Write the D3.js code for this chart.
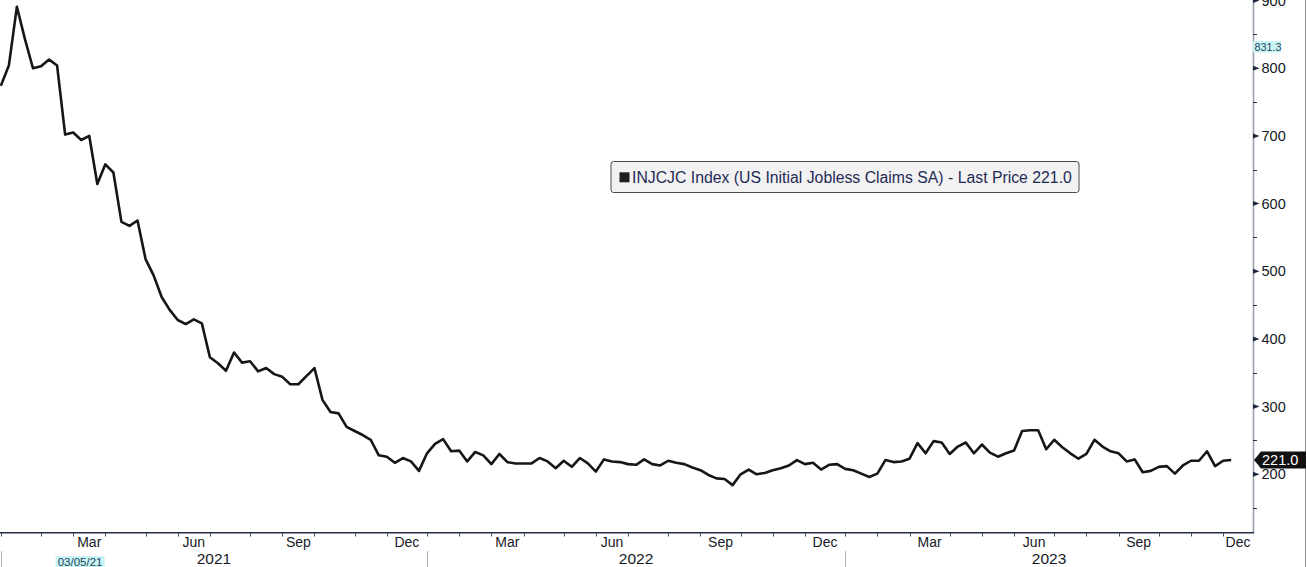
<!DOCTYPE html>
<html>
<head>
<meta charset="utf-8">
<script src="https://cdn.jsdelivr.net/npm/d3@7"></script>
<style>
  html, body { margin: 0; padding: 0; background: #ffffff; }
  svg { display: block; }
  text { font-family: "Liberation Sans", Arial, sans-serif; }
</style>
</head>
<body>
<svg id="chart" width="1306" height="567"></svg>
<script>
// ---- Data (weekly, week ending Saturday, starting 2020-12-26) ----
const seriesName = "INJCJC Index (US Initial Jobless Claims SA) - Last Price 221.0";
const startDate = new Date(2020, 11, 26);
const claims = [
  774, 804, 891, 843, 800, 803, 813, 804, 702, 705,
  694, 700, 629, 658, 646, 573, 567, 575, 518, 494,
  462, 443, 428, 422, 429, 423, 373, 364, 353, 380,
  365, 367, 352, 357, 348, 344, 333, 333, 345, 357,
  310, 292, 290, 270, 264, 258, 251, 228, 226, 217,
  224, 219, 205, 231, 245, 252, 234, 235, 219, 233,
  228, 215, 230, 218, 216, 216, 216, 224, 219, 209,
  220, 211, 224, 216, 204, 222, 219, 218, 215, 214,
  222, 215, 213, 220, 217, 215, 210, 206, 199, 194,
  193, 184, 200, 207, 200, 202, 206, 209, 213, 221,
  215, 217, 207, 214, 215, 208, 206, 201, 196, 201,
  221, 218, 219, 223, 246, 231, 249, 247, 230, 241,
  247, 231, 244, 232, 226, 231, 235, 264, 265, 265,
  237, 251, 240, 231, 223, 230, 251, 241, 234, 231,
  219, 222, 203, 205, 211, 212, 201, 213, 220, 220,
  234, 212, 220, 221
];
const yMajorTicks = [200, 300, 400, 500, 600, 700, 800, 900];
const yMinorTicks = [150, 250, 350, 450, 550, 650, 750, 850];
const monthLabels = ["Mar", "Jun", "Sep", "Dec"];
const labelMonths = [2, 5, 8, 11];
const years = [2021, 2022, 2023];
const lastPrice = 221.0;
const cursorValue = "831.3";
const cursorDate = "03/05/21";

// ---- Layout ----
const plotW = 1253, plotH = 532;
const svg = d3.select("#chart");

const x = d3.scaleTime()
  .domain([new Date(2020, 11, 25, 7), new Date(2023, 11, 21)])
  .range([0, plotW]);
const y = d3.scaleLinear().domain([114.7, 900.9]).range([plotH, 0]);

const dates = claims.map((v, i) => d3.timeDay.offset(startDate, 7 * i));
const data = claims.map((v, i) => ({ date: dates[i], value: v }));

// clip
svg.append("defs").append("clipPath").attr("id", "plotclip")
  .append("rect").attr("x", 0).attr("y", 0).attr("width", plotW).attr("height", plotH);

// ---- Line ----
const line = d3.line().x(d => x(d.date)).y(d => y(d.value));
svg.append("path")
  .datum(data)
  .attr("clip-path", "url(#plotclip)")
  .attr("d", line)
  .attr("fill", "none")
  .attr("stroke", "#161616")
  .attr("stroke-width", 2.6)
  .attr("stroke-linejoin", "round");

// ---- Right Y axis ----
svg.append("line")
  .attr("x1", plotW + 0.5).attr("x2", plotW + 0.5)
  .attr("y1", 0).attr("y2", plotH + 1)
  .attr("stroke", "#9aa0b0").attr("stroke-width", 1.6);

svg.selectAll(".minortick").data(yMinorTicks).enter().append("line")
  .attr("x1", plotW).attr("x2", plotW + 4)
  .attr("y1", d => Math.round(y(d)) + 0.5).attr("y2", d => Math.round(y(d)) + 0.5)
  .attr("stroke", "#2a2f45").attr("stroke-width", 1);

svg.selectAll(".majortick").data(yMajorTicks).enter().append("path")
  .attr("d", d => {
    const yy = y(d);
    return `M${plotW},${yy - 2.5}L${plotW + 6.5},${yy}L${plotW},${yy + 2.5}Z`;
  })
  .attr("fill", "#1f2640");

svg.selectAll(".ylabel").data(yMajorTicks).enter().append("text")
  .attr("x", plotW + 8.5)
  .attr("y", d => y(d))
  .attr("dy", "0.36em")
  .attr("font-size", "14.5px")
  .attr("fill", "#141826")
  .text(d => d3.format("d")(d));

// ---- Bottom X axis ----
svg.append("line")
  .attr("x1", 0).attr("x2", plotW + 1)
  .attr("y1", plotH + 0.8).attr("y2", plotH + 0.8)
  .attr("stroke", "#262d48").attr("stroke-width", 1.4);

const monthStarts = d3.timeMonth.range(new Date(2021, 0, 1), new Date(2024, 1, 1));
const tickPos = m => x(d3.timeSaturday.floor(m));

svg.selectAll(".xtick").data(monthStarts.filter(m => tickPos(m) <= plotW)).enter().append("line")
  .attr("x1", d => Math.round(tickPos(d)) + 0.5).attr("x2", d => Math.round(tickPos(d)) + 0.5)
  .attr("y1", plotH + 1).attr("y2", plotH + 4.5)
  .attr("stroke", "#4a4f60").attr("stroke-width", 1);

const monthLabelData = [];
years.forEach(yr => {
  labelMonths.forEach((mi, j) => {
    const m0 = new Date(yr, mi, 1), m1 = new Date(yr, mi + 1, 1);
    const a = Math.max(0, tickPos(m0)), b = Math.min(plotW, tickPos(m1));
    monthLabelData.push({ label: monthLabels[j], cx: Math.min((a + b) / 2, plotW - 15) });
  });
});
svg.selectAll(".mlabel").data(monthLabelData).enter().append("text")
  .attr("x", d => d.cx).attr("y", 546.5)
  .attr("text-anchor", "middle")
  .attr("font-size", "14px")
  .attr("fill", "#161a26")
  .text(d => d.label);

const yearData = years.map(yr => {
  const a = Math.max(0, tickPos(new Date(yr, 0, 1)));
  const b = Math.min(plotW, tickPos(new Date(yr + 1, 0, 1)));
  return { label: String(yr), cx: (a + b) / 2, sep: tickPos(new Date(yr, 0, 1)) };
});
svg.selectAll(".ysep").data(yearData).enter().append("line")
  .attr("x1", d => Math.max(0.5, Math.round(d.sep) + 0.5)).attr("x2", d => Math.max(0.5, Math.round(d.sep) + 0.5))
  .attr("y1", 551).attr("y2", 567)
  .attr("stroke", "#b4b4b8").attr("stroke-width", 1);
svg.selectAll(".ylab").data(yearData).enter().append("text")
  .attr("x", d => d.cx).attr("y", 564)
  .attr("text-anchor", "middle")
  .attr("font-size", "15.5px")
  .attr("fill", "#161a26")
  .text(d => d.label);

// ---- right frame border ----
svg.append("line")
  .attr("x1", 1305.5).attr("x2", 1305.5).attr("y1", 0).attr("y2", 567)
  .attr("stroke", "#8c8c8c").attr("stroke-width", 1);

// ---- Last price marker ----
const ly = y(lastPrice);
svg.append("path")
  .attr("d", `M${plotW + 1},${ly}L${plotW + 8},${ly - 8.5}L1306,${ly - 8.5}L1306,${ly + 8.5}L${plotW + 8},${ly + 8.5}Z`)
  .attr("fill", "#111111");
svg.append("text")
  .attr("x", plotW + 9).attr("y", ly).attr("dy", "0.36em")
  .attr("font-size", "14.5px").attr("fill", "#ffffff")
  .text(d3.format(".1f")(lastPrice));

// ---- Cursor value label ----
svg.append("rect")
  .attr("x", plotW).attr("y", 41).attr("width", 28).attr("height", 11.5)
  .attr("fill", "#c8f4f4");
svg.append("text")
  .attr("x", plotW + 1.5).attr("y", 50.8)
  .attr("font-size", "10.8px").attr("fill", "#2a4460")
  .text(cursorValue);

// ---- Cursor date label ----
const cdx = x(new Date(2021, 2, 5));
svg.append("rect")
  .attr("x", cdx - 24.5).attr("y", 556).attr("width", 49).attr("height", 12)
  .attr("fill", "#c8f4f4");
svg.append("text")
  .attr("x", cdx).attr("y", 565.5)
  .attr("text-anchor", "middle")
  .attr("font-size", "11.5px").attr("fill", "#2a4460")
  .text(cursorDate);

// ---- Legend ----
const lg = svg.append("g");
lg.append("rect")
  .attr("x", 611).attr("y", 161.5).attr("width", 468).attr("height", 31)
  .attr("rx", 2.5)
  .attr("fill", "#f2f2f2").attr("stroke", "#4a4a4a").attr("stroke-width", 1);
lg.append("rect")
  .attr("x", 619.5).attr("y", 172.3).attr("width", 10).attr("height", 10)
  .attr("fill", "#1e1e1e");
lg.append("text")
  .attr("x", 632).attr("y", 183.3)
  .attr("font-size", "15.8px").attr("fill", "#1f2b55")
  .text(seriesName);
</script>
</body>
</html>
